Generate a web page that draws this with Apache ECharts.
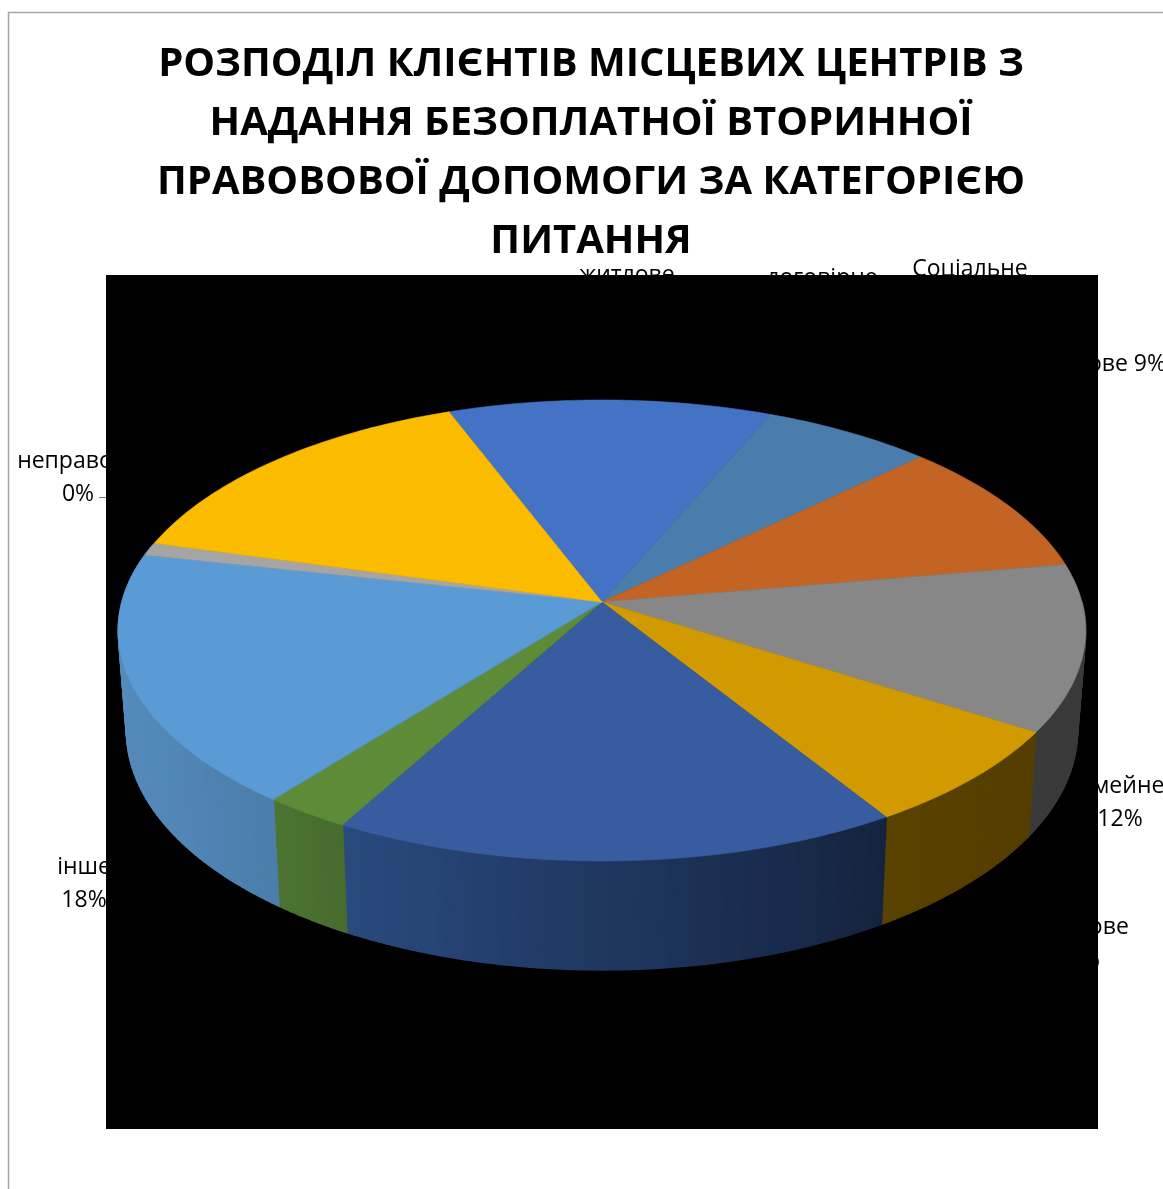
<!DOCTYPE html>
<html><head><meta charset="utf-8">
<style>html,body{margin:0;padding:0;background:#fff;overflow:hidden}#c{width:1163px;height:1189px}</style>
<script src="https://cdn.jsdelivr.net/npm/echarts@6/dist/echarts.min.js"></script>
</head><body><div id="c"></div>
<script>
// --- data ---
const titleText = 'РОЗПОДІЛ КЛІЄНТІВ МІСЦЕВИХ ЦЕНТРІВ З\nНАДАННЯ БЕЗОПЛАТНОЇ ВТОРИННОЇ\nПРАВОВОВОЇ ДОПОМОГИ ЗА КАТЕГОРІЄЮ\nПИТАННЯ';
const categories = ['житлове','договірне','спадкове','сімейне','трудове','кримінальне','адміністративне','інше','неправове','земельне'];
const shares = [12.2,6.4,9.5,11.7,7.1,16.9,2.6,17.8,0.9,14.9];
// --- styles ---
const topColors = ['#4472C4','#4A7DAB','#C46424','#878787','#D09A00','#375C9F','#5D8B38','#5B9BD5','#A5A5A5','#FBBC00'];
const wallLeft  = ['#2b4a80','#2f4f6c','#7a3f17','#3a3a3a','#5a4200','#294A7E','#4d7432','#558BBC','#666666','#9c7500'];
const wallRight = ['#2b4a80','#2f4f6c','#7a3f17','#3a3a3a','#543e00','#15233F','#476b2d','#4B7DA9','#666666','#9c7500'];
const FONT = '"Open Sans", "Noto Sans", sans-serif';
// [text, x, y, align]
const labelItems = [
  ['житлове\n12%', 627, 259, 'center'],
  ['договірне\n6%', 822, 262, 'center'],
  ['Соціальне', 970, 253, 'center'],
  ['спадкове 9%', 1166, 348, 'right'],
  ['сімейне\n12%', 1120, 770, 'center'],
  ['трудове\n7%', 1084, 911, 'center'],
  ['інше\n18%', 84, 851, 'center'],
  ['неправове\n0%', 78, 445, 'center']
];
// perspective disc geometry
const apex = [602, 602], A = 480, B = 227, K = 0.1236, START = -20.85;
const DEPTH = 99, SHRINK_X = 0.983, STRETCH_Y = 1.038;
const total = shares.reduce((a, b) => a + b, 0);
const cum = []; shares.reduce((a, b, i) => (cum[i] = a, a + b), 0);
function rim(deg, bottom) {
  const t = deg * Math.PI / 180, u = Math.sin(t), v = Math.cos(t), w = 1 + K * v;
  const sx = bottom ? SHRINK_X : 1, sy = bottom ? STRETCH_Y : 1;
  return [apex[0] + sx * A * u / w, apex[1] + (bottom ? DEPTH : 0) - sy * B * v / w];
}
function angles(i, val) {
  const a0 = START + cum[i] / total * 360;
  return [a0, a0 + val / total * 360];
}
function arc(a0, a1, bottom) {
  const pts = [], n = Math.max(2, Math.ceil(Math.abs(a1 - a0)));
  for (let j = 0; j <= n; j++) pts.push(rim(a0 + (a1 - a0) * j / n, bottom));
  return pts;
}
function renderTop(p, api) {
  const i = p.dataIndex, [a0, a1] = angles(i, api.value(0));
  return { type: 'polygon', shape: { points: [apex].concat(arc(a0, a1, false)) },
    style: { fill: topColors[i], stroke: topColors[i], lineWidth: 0.6 } };
}
// The wall is a strip of small quads: the two rims cross near the silhouette,
// so one closed outline would leave a notch there.
function renderWall(p, api) {
  const i = p.dataIndex; let [a0, a1] = angles(i, api.value(0));
  a0 = Math.max(a0, 90); a1 = Math.min(a1, 285);
  if (a1 <= a0) return null;
  const top = arc(a0, a1, false), bot = arc(a0, a1, true), children = [];
  const xs = top.concat(bot).map(q => q[0]), xMin = Math.min(...xs), xMax = Math.max(...xs);
  for (let j = 0; j < top.length - 1; j++) {
    const mid = (top[j][0] + top[j + 1][0] + bot[j][0] + bot[j + 1][0]) / 4;
    const f = xMax > xMin ? (mid - xMin) / (xMax - xMin) : 0;
    const col = echarts.color.lerp(f, [wallLeft[i], wallRight[i]]);
    children.push({ type: 'polygon',
      shape: { points: [top[j], top[j + 1], bot[j + 1], bot[j]] },
      style: { fill: col, stroke: col, lineWidth: 1.6, lineJoin: 'round' } });
  }
  return { type: 'group', children };
}
const chart = echarts.init(document.getElementById('c'), null, { renderer: 'canvas' });
const graphics = [
  { type: 'polyline', z: 0, silent: true, shape: { points: [[8.5, 1189], [8.5, 12.5], [1163, 12.5]] },
    style: { stroke: '#a6a6a6', lineWidth: 1.5, fill: null } }
].concat(labelItems.map(l => ({
  type: 'text', z: 1, silent: true, x: l[1], y: l[2],
  style: { text: l[0], fill: '#000', font: '23px ' + FONT, lineHeight: 33, align: l[3], verticalAlign: 'top' }
}))).concat([
  { type: 'line', z: 1, silent: true, shape: { x1: 99, y1: 497.5, x2: 107, y2: 497.5 }, style: { stroke: '#777', lineWidth: 1 } },
  { type: 'rect', z: 2, silent: true, shape: { x: 106, y: 275, width: 992, height: 854 }, style: { fill: '#000' } },
  { type: 'text', z: 6, silent: true, x: 591, y: 35,
    style: { text: titleText, fill: '#000', font: 'bold 40px ' + FONT, lineHeight: 59, align: 'center', verticalAlign: 'top' } }
]);
chart.setOption({
  animation: false,
  backgroundColor: '#fff',
  graphic: graphics,
  series: [
    { type: 'custom', name: 'walls', coordinateSystem: 'none', z: 3, silent: true, renderItem: renderWall,
      data: categories.map((c, i) => ({ name: c, value: [shares[i]] })) },
    { type: 'custom', name: 'tops', coordinateSystem: 'none', z: 4, silent: true, renderItem: renderTop,
      data: categories.map((c, i) => ({ name: c, value: [shares[i]] })) }
  ]
});
</script></body></html>
